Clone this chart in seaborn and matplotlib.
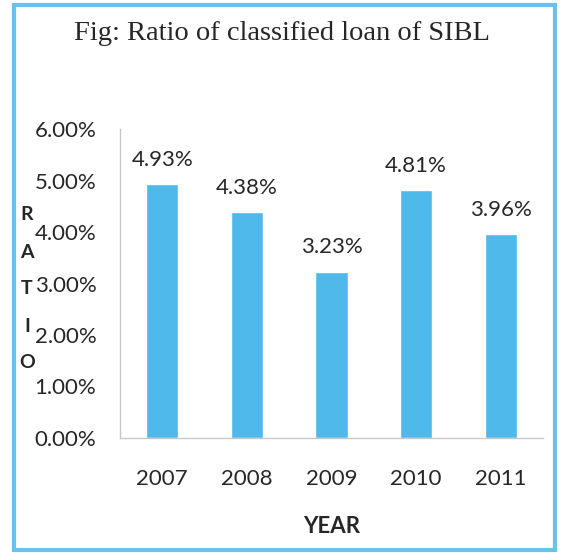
import pandas as pd
import seaborn as sns
import matplotlib.pyplot as plt
from matplotlib.patches import Rectangle

# data
years = ["2007", "2008", "2009", "2010", "2011"]
ratio = [4.93, 4.38, 3.23, 4.81, 3.96]
ytick_vals = [0, 1, 2, 3, 4, 5, 6]

df = pd.DataFrame({"Year": years, "Ratio": ratio})

sns.set_style("white")
plt.rcParams['font.family'] = ['Lato', 'DejaVu Sans']

fig = plt.figure(figsize=(5.64, 5.55), dpi=100)
ax = fig.add_axes([120/564, 117/555, 423/564, 309/555])

bar_color = "#4FB9EC"
sns.barplot(data=df, x="Year", y="Ratio", color=bar_color, saturation=1,
            width=0.38, ax=ax)

ax.set_ylim(0, 6)
ax.set_xlim(-0.5, len(years) - 0.5)
ax.set_yticks(ytick_vals)
ax.set_yticklabels(["%.2f%%" % v for v in ytick_vals], fontsize=16)
ax.tick_params(axis="x", which="major", length=0, labelsize=16, pad=22)
ax.set_xticks([i - 0.5 for i in range(len(years) + 1)], minor=True)
ax.tick_params(axis="x", which="minor", length=7, color="#C8C8C8", width=1)
ax.tick_params(axis="y", length=5, color="#C8C8C8", width=1, pad=12)

for s in ["top", "right"]:
    ax.spines[s].set_visible(False)
for s in ["left", "bottom"]:
    ax.spines[s].set_color("#C8C8C8")
    ax.spines[s].set_linewidth(1)

# value labels
for i, v in enumerate(ratio):
    ax.text(i, v + 0.28, "%.2f%%" % v, ha="center", va="bottom", fontsize=16)

ax.set_xlabel("YEAR", fontsize=16, fontweight="bold", labelpad=20)
ax.set_ylabel("")

# stacked vertical axis title at the left edge
for k, ch in enumerate("RATIO"):
    fig.text(27/564, 1 - (215 + k*37)/555, ch, ha="center", va="center",
             fontsize=14, fontweight="bold")

fig.text(0.5, 1 - 33/555, "Fig: Ratio of classified loan of SIBL",
         ha="center", va="center", fontsize=20.5, family="Liberation Serif")

# blue frame around the whole figure
fig.patches.append(Rectangle((14/564, 5/555), 541/564, 545/555,
                             transform=fig.transFigure, fill=False,
                             edgecolor="#6CC0EC", linewidth=3))

fig.savefig("out.png", dpi=100)
